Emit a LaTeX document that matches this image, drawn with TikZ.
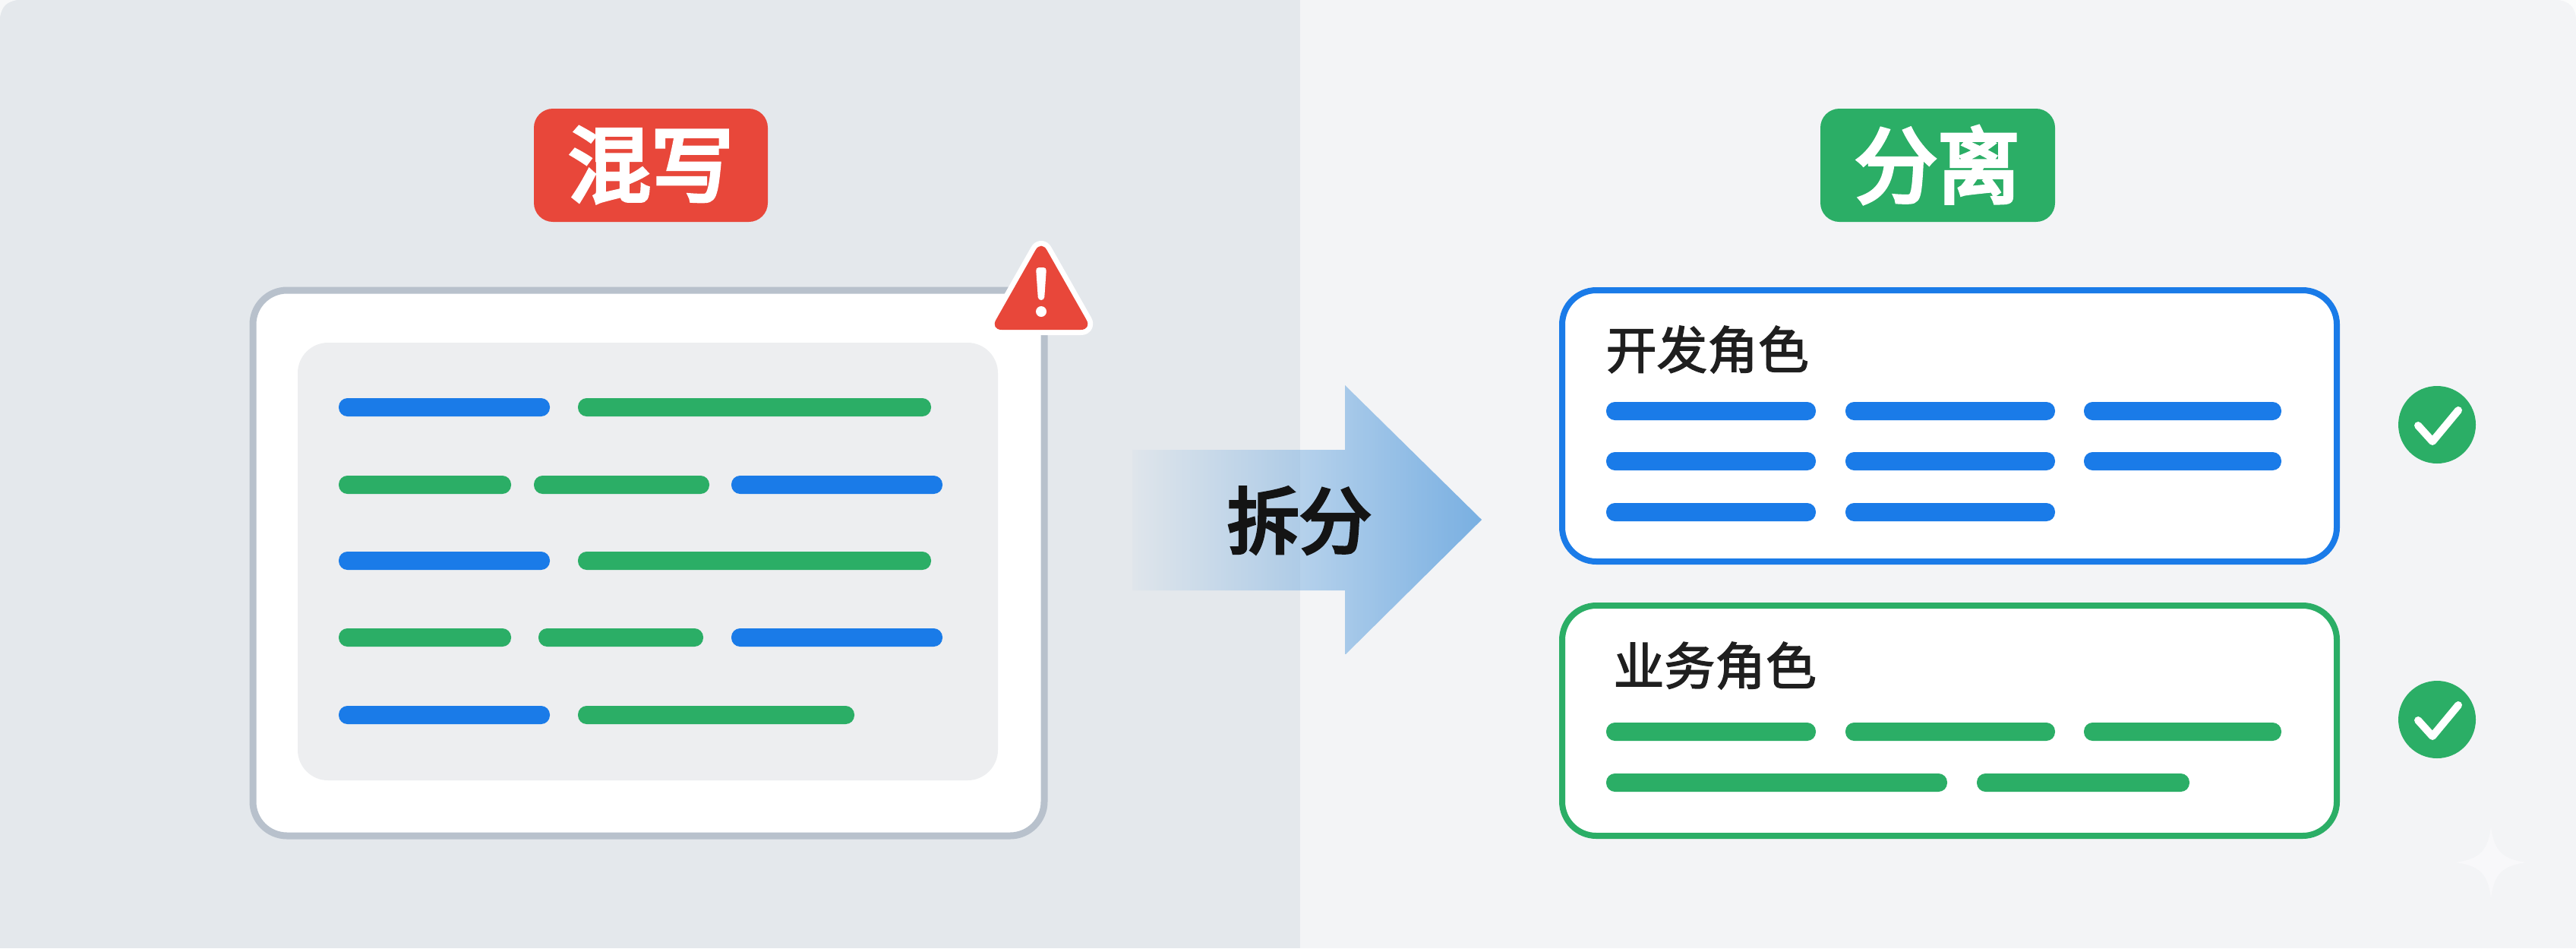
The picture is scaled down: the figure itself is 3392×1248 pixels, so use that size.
\documentclass[tikz,border=0pt]{standalone}
\usepackage{fontspec}
\usetikzlibrary{fadings}
\newfontfamily\cjkmid[FakeBold=2.2]{Noto Sans CJK SC}
\newfontfamily\cjkheavy[FakeBold=4.6]{Noto Sans CJK SC}
\definecolor{leftbg}{HTML}{E4E8EC}
\definecolor{rightbg}{HTML}{F3F4F6}
\definecolor{cardline}{HTML}{B8C1CC}
\definecolor{innerbg}{HTML}{EDEEF0}
\definecolor{mixred}{HTML}{E8473A}
\definecolor{devblue}{HTML}{1A7BE8}
\definecolor{bizgreen}{HTML}{2BAE66}
\definecolor{splitblue}{HTML}{7AB0E2}
\tikzset{
  bluebar/.style={fill=devblue,rounded corners=1.15mm},
  greenbar/.style={fill=bizgreen,rounded corners=1.15mm},
  badgelabel/.style={text=white,font=\cjkheavy\fontsize{31}{33}\selectfont,inner sep=0pt},
  rolelabel/.style={text=black!88,anchor=west,font=\cjkmid\fontsize{19}{21}\selectfont,inner sep=0pt},
  rolecard/.style={fill=white,line width=0.8mm,rounded corners=4.5mm},
  checkmark/.style={draw=white,line width=1mm,line cap=round,line join=round}
}
\begin{document}
\begin{tikzpicture}[x=0.1mm,y=-0.1mm]
\useasboundingbox (0,0) rectangle (3392,1248);
\fill[rightbg] (0,0) rectangle (3392,1248);
\fill[leftbg] (0,0) rectangle (1712,1248);
\fill[mixred,rounded corners=2.5mm] (703,143) rectangle (1011,292);
\node[badgelabel] (mixlabel) at (857,217) {混写};
\fill[bizgreen,rounded corners=2.5mm] (2397,143) rectangle (2706,292);
\node[badgelabel] (splitlabel) at (2551,217) {分离};
\draw[fill=white,draw=cardline,line width=0.9mm,rounded corners=4.5mm] (333,382) rectangle (1375,1100);
\fill[innerbg,rounded corners=4mm] (392,451) rectangle (1314,1027);
\foreach \xa/\xb/\yy in {446/724/536,963/1241/638,446/724/738,963/1241/839,446/724/941}
  \fill[bluebar] (\xa,{\yy-12}) rectangle (\xb,{\yy+12});
\foreach \xa/\xb/\yy in {761/1226/536,446/673/638,703/934/638,761/1226/738,446/673/839,709/926/839,761/1125/941}
  \fill[greenbar] (\xa,{\yy-12}) rectangle (\xb,{\yy+12});
\draw[fill=white,draw=white,line width=1.4mm,line join=round,rounded corners=1.5mm] (1371,316) -- (1438,434) -- (1304,434) -- cycle;
\fill[mixred,rounded corners=1.5mm] (1371,316) -- (1438,434) -- (1304,434) -- cycle;
\fill[white,rounded corners=0.4mm] (1364,352) -- (1378,352) -- (1375,395) -- (1367,395) -- cycle;
\fill[white] (1371,410) circle (7);
\fill[splitblue,path fading=west,fit fading=false,fading transform={shift={(1710,684)},xscale=2.7}]
  (1491,592) -- (1771,592) -- (1771,507) -- (1951,684) -- (1771,862) -- (1771,777) -- (1491,777) -- cycle;
\node[text=black!92,font=\cjkheavy\fontsize{27}{29}\selectfont,inner sep=0pt] (splitarrowlabel) at (1711,685) {拆分};
\draw[rolecard,draw=devblue] (2057,382) rectangle (3077,739);
\node[rolelabel] (devlabel) at (2114,460) {开发角色};
\foreach \xa/\xb in {2115/2391,2430/2706,2744/3004}{
  \fill[bluebar] (\xa,529) rectangle (\xb,553);
  \fill[bluebar] (\xa,595) rectangle (\xb,619);
}
\foreach \xa/\xb in {2115/2391,2430/2706}
  \fill[bluebar] (\xa,662) rectangle (\xb,686);
\draw[rolecard,draw=bizgreen] (2057,797) rectangle (3077,1100);
\node[rolelabel] (bizlabel) at (2124,876) {业务角色};
\foreach \xa/\xb/\yy in {2115/2391/963,2430/2706/963,2744/3004/963,2115/2564/1030,2603/2883/1030}
  \fill[greenbar] (\xa,{\yy-12}) rectangle (\xb,{\yy+12});
\foreach \yy in {559,947}{
  \fill[bizgreen] (3209,\yy) circle (51);
  \draw[checkmark] (3184,{\yy+1}) -- (3203,{\yy+22}) -- (3237,{\yy-19});
}
\fill[white!40!rightbg] (3280,1088) .. controls (3284,1120) and (3295,1131) .. (3327,1135) .. controls (3295,1139) and (3284,1150) .. (3280,1182) .. controls (3276,1150) and (3265,1139) .. (3233,1135) .. controls (3265,1131) and (3276,1120) .. (3280,1088) -- cycle;
\fill[white!70!leftbg] (0,0) -- (22,0) .. controls (8,3) and (3,8) .. (0,22) -- cycle;
\fill[white!70!rightbg] (3392,0) -- (3370,0) .. controls (3384,3) and (3389,8) .. (3392,22) -- cycle;
\end{tikzpicture}
\end{document}
